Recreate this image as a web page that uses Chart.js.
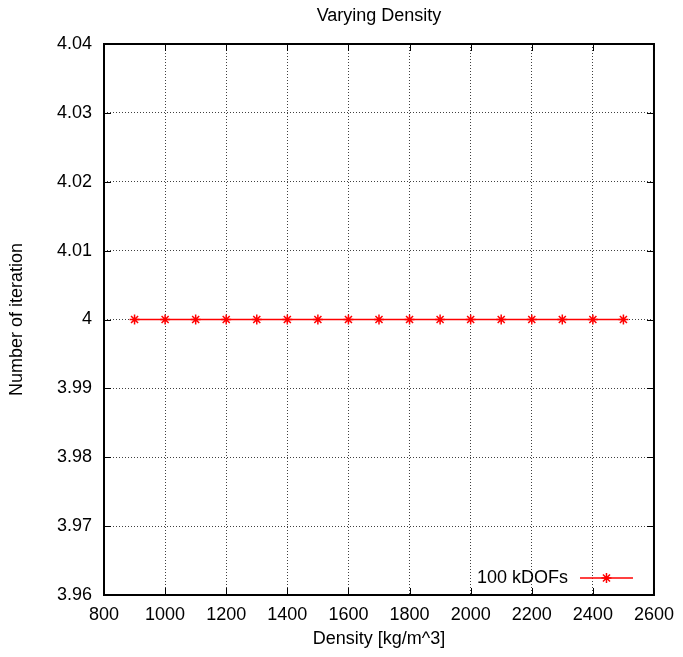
<!DOCTYPE html>
<html>
<head>
<meta charset="utf-8">
<script src="https://cdn.jsdelivr.net/npm/chart.js@4/dist/chart.umd.min.js"></script>
<style>
  html, body { margin: 0; padding: 0; background: #fff; }
  #wrap { width: 683px; height: 657px; position: relative; }
</style>
</head>
<body>
<div id="wrap"><canvas id="chart"></canvas></div>
<script>
// data
const densities = [900, 1000, 1100, 1200, 1300, 1400, 1500, 1600, 1700, 1800, 1900, 2000, 2100, 2200, 2300, 2400, 2500];
const iterations = [4, 4, 4, 4, 4, 4, 4, 4, 4, 4, 4, 4, 4, 4, 4, 4, 4];
const seriesLabel = "100 kDOFs";
const chartTitle = "Varying Density";
const xRange = [800, 2600];
const xStep = 200;
const yRange = [3.96, 4.04];
const yStep = 0.01;

const FONT = "'Liberation Sans', Arial, Helvetica, sans-serif";
const FSIZE = 18;
const RED = "#ff0000";

// gnuplot-like frame, inward ticks, title and legend
const gnuFrame = {
  id: "gnuFrame",
  afterDraw(chart) {
    const { ctx, chartArea: a } = chart;
    const xs = chart.scales.x, ys = chart.scales.y;
    const tl = 7;
    ctx.save();
    ctx.strokeStyle = "#000";
    ctx.lineWidth = 1;
    ctx.beginPath();
    xs.ticks.forEach(t => {
      const px = Math.round(xs.getPixelForValue(t.value)) + 0.5;
      ctx.moveTo(px, a.bottom); ctx.lineTo(px, a.bottom - tl);
      ctx.moveTo(px, a.top); ctx.lineTo(px, a.top + tl);
    });
    ys.ticks.forEach(t => {
      const py = Math.round(ys.getPixelForValue(t.value)) + 0.5;
      ctx.moveTo(a.left, py); ctx.lineTo(a.left + tl, py);
      ctx.moveTo(a.right, py); ctx.lineTo(a.right - tl, py);
    });
    ctx.stroke();
    ctx.lineWidth = 2;
    ctx.strokeRect(a.left, a.top, a.right - a.left, a.bottom - a.top);

    ctx.fillStyle = "#000";
    ctx.font = FSIZE + "px " + FONT;
    ctx.textBaseline = "middle";

    // title centred over the plot area
    ctx.textAlign = "center";
    ctx.fillText(chartTitle, (a.left + a.right) / 2, 16);

    // legend, bottom right inside the plot
    const ly = a.bottom - 17;
    const x0 = a.right - 74, x1 = a.right - 21;
    ctx.textAlign = "right";
    ctx.fillText(seriesLabel, x0 - 12, ly);
    ctx.strokeStyle = RED;
    ctx.lineWidth = 1.5;
    ctx.beginPath();
    ctx.moveTo(x0, ly); ctx.lineTo(x1, ly);
    ctx.stroke();
    Chart.helpers.drawPoint(ctx, { pointStyle: "star", radius: 5, rotation: 0, borderWidth: 1.5 }, (x0 + x1) / 2, ly);
    ctx.restore();
  }
};

const gridStyle = {
  color: "rgba(0,0,0,0.75)",
  lineWidth: 1,
  drawTicks: false
};

new Chart(document.getElementById("chart"), {
  type: "line",
  data: {
    datasets: [{
      label: seriesLabel,
      data: densities.map((d, i) => ({ x: d, y: iterations[i] })),
      borderColor: RED,
      backgroundColor: RED,
      borderWidth: 1.5,
      pointStyle: "star",
      pointRadius: 5,
      pointBorderWidth: 1.5,
      pointBorderColor: RED,
      fill: false,
      tension: 0
    }]
  },
  options: {
    responsive: true,
    maintainAspectRatio: false,
    animation: false,
    layout: { padding: { left: 0, right: 28, top: 44, bottom: 0 } },
    plugins: {
      legend: { display: false },
      tooltip: { enabled: false },
      title: { display: false }
    },
    scales: {
      x: {
        type: "linear",
        min: xRange[0],
        max: xRange[1],
        grid: gridStyle,
        border: { display: false, dash: [1, 2] },
        ticks: {
          stepSize: xStep,
          padding: 9,
          color: "#000",
          maxRotation: 0,
          font: { family: FONT, size: FSIZE },
          callback: v => String(v)
        },
        title: {
          display: true,
          text: "Density [kg/m^3]",
          color: "#000",
          font: { family: FONT, size: FSIZE },
          padding: { top: 2, bottom: 7 }
        },
        afterFit: s => { s.height = 62; }
      },
      y: {
        min: yRange[0],
        max: yRange[1],
        grid: gridStyle,
        border: { display: false, dash: [1, 2] },
        ticks: {
          stepSize: yStep,
          padding: 12,
          color: "#000",
          font: { family: FONT, size: FSIZE },
          callback: v => String(Math.round(v * 100) / 100)
        },
        title: {
          display: true,
          text: "Number of iteration",
          color: "#000",
          font: { family: FONT, size: FSIZE },
          padding: { top: 6, bottom: 4 }
        },
        afterFit: s => { s.width = 104; }
      }
    }
  },
  plugins: [gnuFrame]
});
</script>
</body>
</html>
